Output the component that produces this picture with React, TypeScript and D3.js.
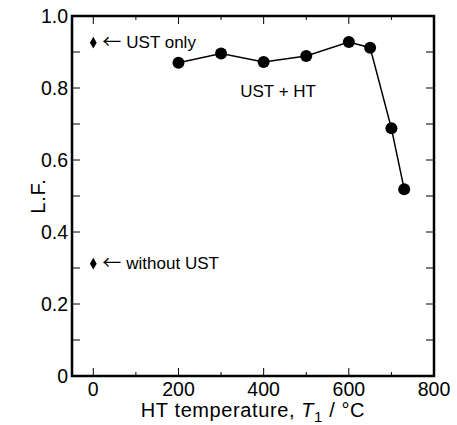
import React from "react";
import * as d3 from "d3";

// Heat-treatment temperature series (UST + HT)
const htTemps = [200, 300, 400, 500, 600, 650, 700, 730];
const htLF = [0.87, 0.896, 0.872, 0.889, 0.928, 0.912, 0.688, 0.519];

// Reference points plotted at T1 = 0
const refLabels = ["UST only", "without UST"];
const refLF = [0.926, 0.312];

const xTicks = [0, 200, 400, 600, 800];
const xMinor = [100, 300, 500, 700];
const yTicks = [0, 0.2, 0.4, 0.6, 0.8, 1.0];
const yMinor = [0.1, 0.3, 0.5, 0.7, 0.9];

const W = 457;
const H = 425;
const left = 72;
const right = 434;
const top = 16;
const bottom = 376;

const FONT = "Arial, 'Liberation Sans', Helvetica, sans-serif";

export default function App() {
  const x = d3.scaleLinear().domain([-50, 800]).range([left, right]);
  const y = d3.scaleLinear().domain([0, 1]).range([bottom, top]);

  const line = d3
    .line<number>()
    .x((_, i) => x(htTemps[i]))
    .y((d) => y(d));

  const diamond = d3.symbol().type(d3.symbolDiamond).size(40)();

  const tickFmt = (v: number) => (v === 0 ? "0" : d3.format(".1f")(v));

  return (
    <svg
      width={W}
      height={H}
      style={{ position: "absolute", left: 0, top: 0, background: "#fff" }}
      fontFamily={FONT}
    >
      {/* x ticks, bottom and top, pointing inward */}
      {xTicks.filter((t) => t < 800).map((t) => (
        <g key={"xt" + t} stroke="#000" strokeWidth={1}>
          <line x1={x(t)} x2={x(t)} y1={bottom} y2={bottom - 8} />
          <line x1={x(t)} x2={x(t)} y1={top} y2={top + 8} />
        </g>
      ))}
      {xMinor.map((t) => (
        <g key={"xm" + t} stroke="#000" strokeWidth={1}>
          <line x1={x(t)} x2={x(t)} y1={bottom} y2={bottom - 4} />
          <line x1={x(t)} x2={x(t)} y1={top} y2={top + 4} />
        </g>
      ))}
      {/* y ticks, left and right */}
      {[...yTicks, ...yMinor].filter((t) => t > 0 && t < 1).map((t) => (
        <g key={"yt" + t} stroke="#000" strokeWidth={1}>
          <line x1={left} x2={left + 8} y1={y(t)} y2={y(t)} />
          <line x1={right} x2={right - 8} y1={y(t)} y2={y(t)} />
        </g>
      ))}

      {/* frame */}
      <rect
        x={left}
        y={top}
        width={right - left}
        height={bottom - top}
        fill="none"
        stroke="#000"
        strokeWidth={2.5}
      />

      {/* tick labels */}
      {xTicks.map((t) => (
        <text
          key={"xl" + t}
          x={x(t)}
          y={396}
          fontSize={19.5}
          textAnchor="middle"
          fill="#000"
        >
          {t}
        </text>
      ))}
      {yTicks.map((t) => (
        <text
          key={"yl" + t}
          x={68}
          y={y(t) + 7}
          fontSize={19.5}
          textAnchor="end"
          fill="#000"
        >
          {tickFmt(t)}
        </text>
      ))}

      {/* axis titles */}
      <text
        x={(left + right) / 2}
        y={417}
        fontSize={20}
        textAnchor="middle"
        fill="#000"
        letterSpacing={0.6}
      >
        HT temperature,{" "}
        <tspan fontStyle="italic">T</tspan>
        <tspan fontSize={15} dy={5}>1</tspan>
        <tspan dy={-5}> / °C</tspan>
      </text>
      <text
        transform={`translate(45, ${(top + bottom) / 2}) rotate(-90)`}
        fontSize={20}
        textAnchor="middle"
        fill="#000"
        letterSpacing={0.8}
      >
        L.F.
      </text>

      {/* UST + HT series */}
      <path d={line(htLF) ?? ""} fill="none" stroke="#000" strokeWidth={1.5} />
      {htLF.map((v, i) => (
        <circle key={"p" + i} cx={x(htTemps[i])} cy={y(v)} r={6} fill="#000" />
      ))}
      <text x={x(345)} y={y(0.775)} fontSize={17} fill="#000">
        UST + HT
      </text>

      {/* reference points */}
      {refLF.map((v, i) => (
        <g key={"r" + i}>
          <path d={diamond ?? ""} transform={`translate(${x(0)}, ${y(v)})`} fill="#000" />
          <text x={x(0) + 9} y={y(v) + 5} fontSize={17} fill="#000">
            <tspan fontFamily="'Noto Sans CJK JP'" fontSize={19} dy={1}>←</tspan>
            <tspan dy={-1} dx={5}>{refLabels[i]}</tspan>
          </text>
        </g>
      ))}
    </svg>
  );
}
